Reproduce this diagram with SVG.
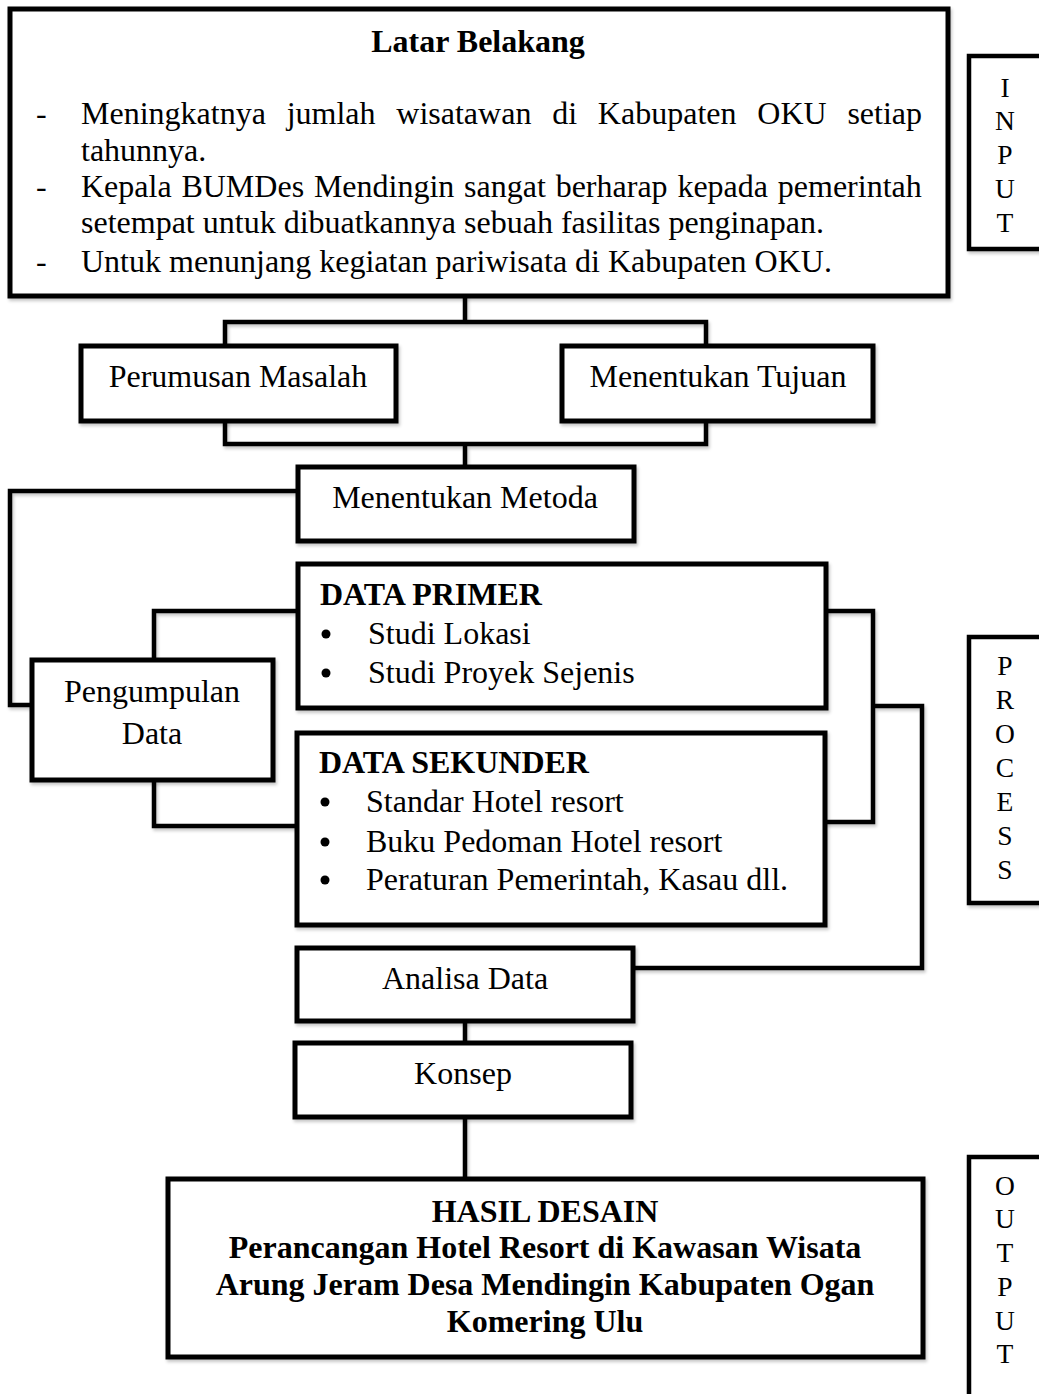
<svg xmlns="http://www.w3.org/2000/svg" width="1039" height="1394" viewBox="0 0 1039 1394">
<style>
.box{fill:#fff;stroke:#000;stroke-width:5;filter:url(#sh)}
.side{fill:#fff;stroke:#000;stroke-width:4.5;filter:url(#sh)}
.con{fill:none;stroke:#000;stroke-width:4.5;stroke-linejoin:miter;filter:url(#sh)}
text{font-family:"Liberation Serif","Times New Roman",serif;font-size:32px;fill:#000}
.b{font-weight:bold}
.c{text-anchor:middle}
.s{font-size:27.5px;text-anchor:middle}
</style>
<defs>
<filter id="sh" filterUnits="userSpaceOnUse" x="0" y="0" width="1039" height="1394">
<feDropShadow dx="1.5" dy="2.5" stdDeviation="1.5" flood-color="#000" flood-opacity="0.22"/>
</filter>
</defs>
<rect width="1039" height="1394" fill="#fff"/>
<g id="connectors">
<path class="con" d="M465,296 V322 M225,345 V322 H706 V345"/>
<path class="con" d="M225,421 V444 H706 V421 M465,444 V467"/>
<path class="con" d="M298,491 H10 V705 H32"/>
<path class="con" d="M154,660 V611 H298 M154,780 V826 H297"/>
<path class="con" d="M826,611 H873 V822 H825 M873,706 H922 V968 H633"/>
<path class="con" d="M465,1021 V1043 M465,1117 V1179"/>
</g>
<g id="latar-belakang">
<rect class="box" x="10" y="9" width="938" height="287"/>
<text class="b c" x="478" y="52">Latar Belakang</text>
<text x="36" y="124">-</text>
<text x="81" y="124" style="word-spacing:12.8px">Meningkatnya jumlah wisatawan di Kabupaten OKU setiap</text>
<text x="81" y="161">tahunnya.</text>
<text x="36" y="197">-</text>
<text x="81" y="197" style="word-spacing:1.8px">Kepala BUMDes Mendingin sangat berharap kepada pemerintah</text>
<text x="81" y="233">setempat untuk dibuatkannya sebuah fasilitas penginapan.</text>
<text x="36" y="272">-</text>
<text x="81" y="272">Untuk menunjang kegiatan pariwisata di Kabupaten OKU.</text>
</g>
<g id="input">
<rect class="side" x="969" y="56" width="80" height="193"/>
<text class="s" x="1005" y="97">I</text>
<text class="s" x="1005" y="130">N</text>
<text class="s" x="1005" y="164">P</text>
<text class="s" x="1005" y="198">U</text>
<text class="s" x="1005" y="232">T</text>
</g>
<g id="perumusan-masalah">
<rect class="box" x="81" y="346" width="315" height="75"/>
<text class="c" x="238" y="387">Perumusan Masalah</text>
</g>
<g id="menentukan-tujuan">
<rect class="box" x="562" y="346" width="311" height="75"/>
<text class="c" x="718" y="387">Menentukan Tujuan</text>
</g>
<g id="menentukan-metoda">
<rect class="box" x="298" y="467" width="336" height="74"/>
<text class="c" x="465" y="508">Menentukan Metoda</text>
</g>
<g id="pengumpulan-data">
<rect class="box" x="32" y="660" width="241" height="120"/>
<text class="c" x="152" y="702">Pengumpulan</text>
<text class="c" x="152" y="744">Data</text>
</g>
<g id="data-primer">
<rect class="box" x="298" y="564" width="528" height="144"/>
<text class="b" x="320" y="605">DATA PRIMER</text>
<circle cx="326" cy="634" r="4.5"/>
<text x="368" y="644">Studi Lokasi</text>
<circle cx="326" cy="673" r="4.5"/>
<text x="368" y="683">Studi Proyek Sejenis</text>
</g>
<g id="data-sekunder">
<rect class="box" x="297" y="733" width="528" height="192"/>
<text class="b" x="319" y="773">DATA SEKUNDER</text>
<circle cx="325" cy="802" r="4.5"/>
<text x="366" y="812">Standar Hotel resort</text>
<circle cx="325" cy="842" r="4.5"/>
<text x="366" y="852">Buku Pedoman Hotel resort</text>
<circle cx="325" cy="880" r="4.5"/>
<text x="366" y="890">Peraturan Pemerintah, Kasau dll.</text>
</g>
<g id="process">
<rect class="side" x="969" y="637" width="80" height="266"/>
<text class="s" x="1005" y="675">P</text>
<text class="s" x="1005" y="709">R</text>
<text class="s" x="1005" y="743">O</text>
<text class="s" x="1005" y="777">C</text>
<text class="s" x="1005" y="811">E</text>
<text class="s" x="1005" y="845">S</text>
<text class="s" x="1005" y="879">S</text>
</g>
<g id="analisa-data">
<rect class="box" x="297" y="948" width="336" height="73"/>
<text class="c" x="465" y="989">Analisa Data</text>
</g>
<g id="konsep">
<rect class="box" x="295" y="1043" width="336" height="74"/>
<text class="c" x="463" y="1084">Konsep</text>
</g>
<g id="hasil-desain">
<rect class="box" x="168" y="1179" width="755" height="178"/>
<text class="b c" x="545" y="1222">HASIL DESAIN</text>
<text class="b c" x="545" y="1258">Perancangan Hotel Resort di Kawasan Wisata</text>
<text class="b c" x="545" y="1295">Arung Jeram Desa Mendingin Kabupaten Ogan</text>
<text class="b c" x="545" y="1332">Komering Ulu</text>
</g>
<g id="output">
<rect class="side" x="969" y="1157" width="80" height="260"/>
<text class="s" x="1005" y="1195">O</text>
<text class="s" x="1005" y="1228">U</text>
<text class="s" x="1005" y="1262">T</text>
<text class="s" x="1005" y="1296">P</text>
<text class="s" x="1005" y="1330">U</text>
<text class="s" x="1005" y="1363">T</text>
</g>
</svg>
